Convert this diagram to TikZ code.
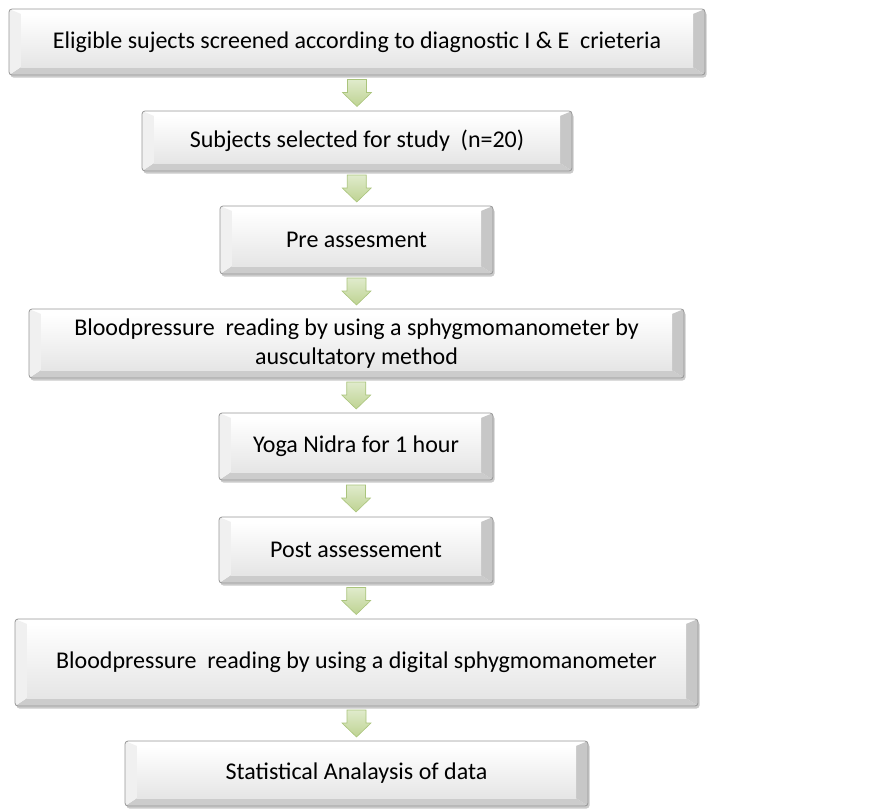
\documentclass[tikz,border=0pt]{standalone}
\usepackage{fontspec}
\setmainfont{Carlito}
\usetikzlibrary{calc,shadows}
\definecolor{arrowtop}{RGB}{224,235,204}
\definecolor{arrowbot}{RGB}{190,211,146}
\definecolor{arrowedge}{RGB}{170,196,124}
\definecolor{boxedge}{RGB}{150,150,150}
\newcommand{\greenarrow}[2]{%
	\path (#1.south) -- coordinate[midway] (mid) (#2.north);
	\draw[arrowbody] ($(mid)+(-9.5pt,13.5pt)$) -- ++(19pt,0pt) -- ++(0pt,-13pt) -- ++(5pt,0pt)
		-- ($(mid)+(0pt,-13.5pt)$) -- ($(mid)+(-14.5pt,0.5pt)$) -- ++(5pt,0pt) -- cycle;
}

\begin{document}
\begin{tikzpicture}[x=1pt, y=-1pt,
	bevelbox/.style={rectangle, rounded corners=3pt, draw=boxedge, line width=.8pt, fill=white,
		inner sep=0pt, align=center, font=\fontsize{24}{29}\selectfont,
		drop shadow={shadow xshift=1.5pt, shadow yshift=-2.5pt, opacity=.35, fill=black!60},
		path picture={
			\coordinate (osw) at (path picture bounding box.south west);
			\coordinate (ose) at (path picture bounding box.south east);
			\coordinate (one) at (path picture bounding box.north east);
			\coordinate (onw) at (path picture bounding box.north west);
			\coordinate (isw) at ($(osw)+(12pt,8pt)$);
			\coordinate (ise) at ($(ose)+(-12pt,8pt)$);
			\coordinate (ine) at ($(one)+(-12pt,-5pt)$);
			\coordinate (inw) at ($(onw)+(12pt,-5pt)$);
			\fill[sharp corners, white] (onw) -- (one) -- (ine) -- (inw) -- cycle;
			\fill[sharp corners, black!20] (osw) -- (ose) -- (ise) -- (isw) -- cycle;
			\fill[sharp corners, black!6] (osw) -- (onw) -- (inw) -- (isw) -- cycle;
			\fill[sharp corners, black!22] (ose) -- (one) -- (ine) -- (ise) -- cycle;
			\shade[sharp corners, top color=white, bottom color=black!10] (isw) rectangle (ine);
		}},
	arrowbody/.style={draw=arrowedge, line width=.6pt, top color=arrowtop, bottom color=arrowbot, line join=miter}]
	\useasboundingbox (0,0) rectangle (872,808);
	\node[bevelbox, minimum width=696pt, minimum height=66pt] (elig) at (357,42) {Eligible sujects screened according to diagnostic I \& E\ \ crieteria};
	\node[bevelbox, minimum width=430pt, minimum height=60pt] (sel) at (357,141) {Subjects selected for study\ \ (n=20)};
	\node[bevelbox, minimum width=273pt, minimum height=68pt] (pre) at (356.5,240) {Pre assesment};
	\node[bevelbox, minimum width=655pt, minimum height=69pt] (bpone) at (356.5,343.5) {Bloodpressure\ \ reading by using a sphygmomanometer by\\auscultatory method};
	\node[bevelbox, minimum width=274pt, minimum height=67pt] (yoga) at (356,446.5) {Yoga Nidra for 1 hour};
	\node[bevelbox, minimum width=274pt, minimum height=66pt] (post) at (356,550) {Post assessement};
	\node[bevelbox, minimum width=683pt, minimum height=87pt] (bptwo) at (356.5,662.5) {Bloodpressure\ \ reading by using a digital sphygmomanometer};
	\node[bevelbox, minimum width=463pt, minimum height=65pt] (stat) at (356.5,773.5) {Statistical Analaysis of data};
	\greenarrow{elig}{sel}
	\greenarrow{sel}{pre}
	\greenarrow{pre}{bpone}
	\greenarrow{bpone}{yoga}
	\greenarrow{yoga}{post}
	\greenarrow{post}{bptwo}
	\greenarrow{bptwo}{stat}
\end{tikzpicture}
\end{document}
